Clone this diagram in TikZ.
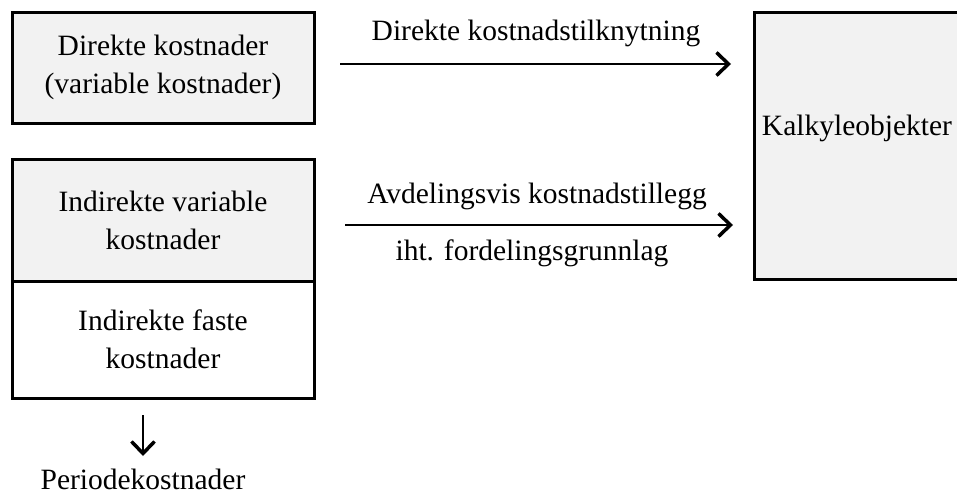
\documentclass[tikz,border=0pt]{standalone}
\usepackage{fontspec}
\setmainfont{Liberation Serif}
\usetikzlibrary{arrows.meta}
\definecolor{boxgray}{HTML}{F2F2F2}
\begin{document}
\begin{tikzpicture}[x=1pt,y=-1pt,
  costbox/.style={draw=black, line width=3pt, inner sep=0pt},
  txt/.style={font=\fontsize{29.5}{38}\selectfont, align=center, inner sep=0pt},
  flow/.style={line width=2.2pt, -{Straight Barb[length=12pt,width=23pt,line width=3.5pt]}}
]
\useasboundingbox (0,0) rectangle (957,497);

% left-hand cost boxes
\draw[costbox, fill=boxgray] (12,13) rectangle (314,124);
\node[txt] (direkte) at (163,67) {Direkte kostnader\\(variable kostnader)};
\draw[costbox, fill=boxgray] (12,160) rectangle (314,281);
\node[txt] (indvar) at (163,220) {Indirekte variable\\kostnader};
\draw[costbox, fill=white] (12,281) rectangle (314,398);
\node[txt] (indfast) at (163,339) {Indirekte faste\\kostnader};

% cost objects
\draw[costbox, fill=boxgray] (754,13) rectangle (964,279);
\node[txt] (kalk) at (857,128) {Kalkyleobjekter};

% flows
\coordinate (a1s) at (340,64);
\coordinate (a1e) at (731,64);
\draw[flow] (a1s) -- (a1e);
\node[txt] (lab1) at (536,33) {Direkte kostnadstilknytning};

\coordinate (a2s) at (345,225);
\coordinate (a2e) at (733,225);
\draw[flow] (a2s) -- (a2e);
\node[txt] (lab2) at (537,196) {Avdelingsvis kostnadstillegg};
\node[txt] (lab3) at (532,253) {iht. fordelingsgrunnlag};

% period costs
\coordinate (d1) at (143,415);
\coordinate (d2) at (143,456);
\draw[flow] (d1) -- (d2);
\node[txt] (period) at (143,479) {Periodekostnader};
\end{tikzpicture}
\end{document}
